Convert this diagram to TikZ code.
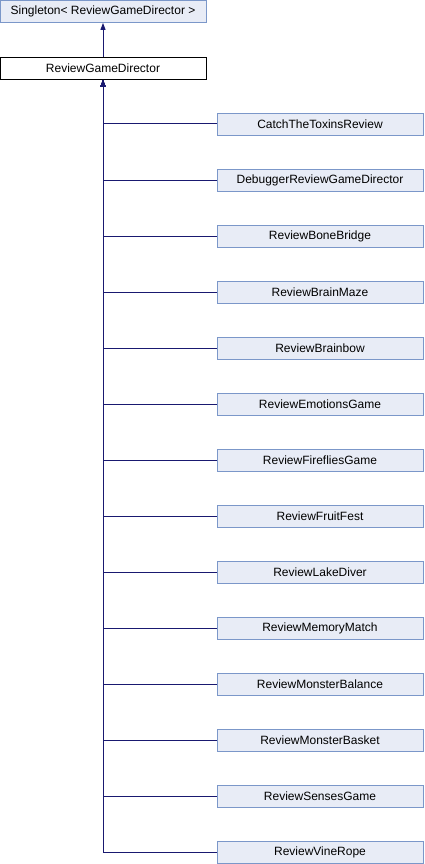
\documentclass[tikz,border=0pt]{standalone}
\usepackage{fontspec}
\setmainfont{Liberation Sans}
\usetikzlibrary{positioning,arrows.meta}
\definecolor{boxfill}{HTML}{E8ECF6}
\definecolor{boxline}{HTML}{7B97C9}
\definecolor{edgeblue}{HTML}{191970}
\begin{document}
\begin{tikzpicture}[x=1pt,y=1pt,>={Triangle[length=7pt,width=5pt]},
  cls/.style={draw=boxline,fill=boxfill,line width=0.8pt,minimum width=206pt,minimum height=22pt,inner sep=0pt,font=\fontsize{12}{14}\selectfont},
  main/.style={cls,draw=black,fill=white},
  edge/.style={draw=edgeblue,line width=1pt}]
\useasboundingbox (0,0) rectangle (424,-864);
\node[cls] (base) at (103,-11.5) {Singleton< ReviewGameDirector >};
\node[main] (gd) at (103,-68.5) {ReviewGameDirector};
\draw[edge,<-] (base.south) -- (gd.north);
\foreach \name [count=\i from 0] in {CatchTheToxinsReview,DebuggerReviewGameDirector,ReviewBoneBridge,ReviewBrainMaze,ReviewBrainbow,ReviewEmotionsGame,ReviewFirefliesGame,ReviewFruitFest,ReviewLakeDiver,ReviewMemoryMatch,ReviewMonsterBalance,ReviewMonsterBasket,ReviewSensesGame,ReviewVineRope}{
  \node[cls] (c\i) at (320,{-124-56*\i}) {\name};
  \draw[edge,<-] (gd.south) |- (c\i.west);
}
\end{tikzpicture}
\end{document}
